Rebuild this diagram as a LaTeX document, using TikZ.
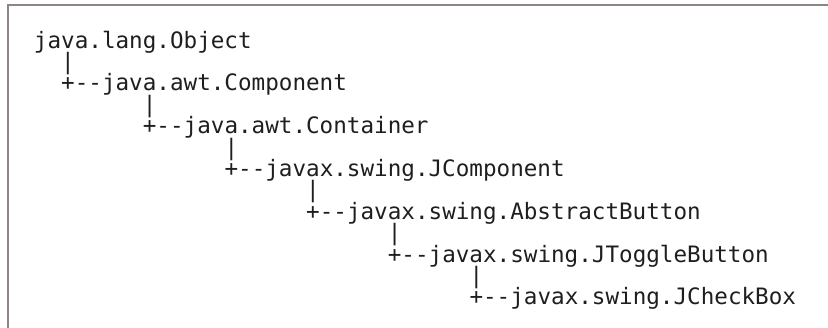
\documentclass[tikz,border=0pt]{standalone}
\usepackage{fontspec}
\setmonofont{DejaVu Sans Mono}
\definecolor{bordercol}{HTML}{8E8482}
\definecolor{textcol}{HTML}{1E1E1E}
\begin{document}
\begin{tikzpicture}[x=1pt,y=-1pt,
  codeline/.style={anchor=base west, inner sep=0pt, outer sep=0pt, text=textcol,
    font=\ttfamily\fontsize{22.6}{21.4}\selectfont},
  frameline/.style={draw=bordercol, line width=2pt}]
\useasboundingbox (0,0) rectangle (828,327);
\draw[frameline] (8,335) -- (8,5) -- (835,5);
% lines of the listing
\node[codeline] (l1)  at (34,48)      {java.lang.Object};
\node[codeline] (l2)  at (61.22,69.4)  {|};
\node[codeline] (l3)  at (61.22,90.8)  {+--java.awt.Component};
\node[codeline] (l4)  at (142.88,112.2) {|};
\node[codeline] (l5)  at (142.88,133.6) {+--java.awt.Container};
\node[codeline] (l6)  at (224.54,155)   {|};
\node[codeline] (l7)  at (224.54,176.4) {+--javax.swing.JComponent};
\node[codeline] (l8)  at (306.2,197.8)  {|};
\node[codeline] (l9)  at (306.2,219.2)  {+--javax.swing.AbstractButton};
\node[codeline] (l10) at (387.86,240.6) {|};
\node[codeline] (l11) at (387.86,262)   {+--javax.swing.JToggleButton};
\node[codeline] (l12) at (469.52,283.4) {|};
\node[codeline] (l13) at (469.52,304.8) {+--javax.swing.JCheckBox};
\end{tikzpicture}
\end{document}
